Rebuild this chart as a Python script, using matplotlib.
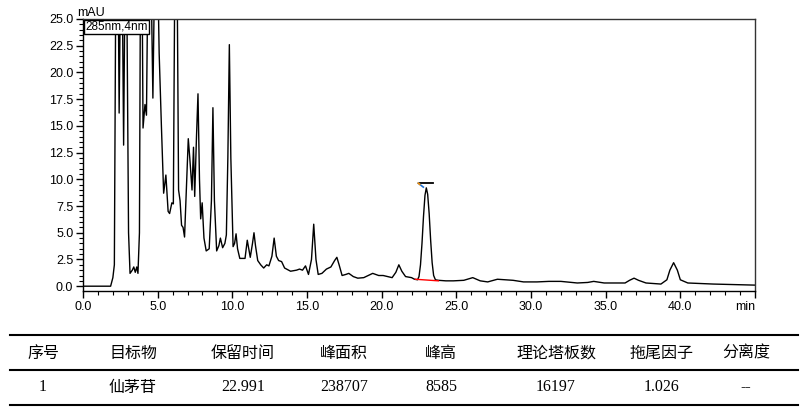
import matplotlib
matplotlib.use("Agg")
import matplotlib.pyplot as plt
import matplotlib.ticker as ticker
from matplotlib.lines import Line2D

# chromatogram trace (min, mAU); spikes above 25 are clipped
time_min = [0.0, 1.0, 1.85, 2.0, 2.1, 2.2, 2.35, 2.42, 2.52, 2.62, 2.72, 2.82, 2.92,
            3.05, 3.15, 3.3, 3.4, 3.5, 3.6, 3.68, 3.78, 3.85, 3.95, 4.02, 4.15, 4.25,
            4.35, 4.55, 4.68, 4.8, 5.0, 5.1, 5.25, 5.4, 5.55, 5.7, 5.8, 5.95, 6.05,
            6.15, 6.3, 6.4, 6.5, 6.6, 6.7, 6.8, 6.95, 7.05, 7.15, 7.3, 7.4, 7.48,
            7.6, 7.7, 7.8, 7.88, 7.98, 8.1, 8.25, 8.45, 8.6, 8.7, 8.8, 8.95, 9.1,
            9.2, 9.35, 9.5, 9.6, 9.7, 9.8, 9.9, 10.05, 10.15, 10.25, 10.35, 10.5,
            10.85, 11.0, 11.1, 11.2, 11.35, 11.45, 11.55, 11.7, 11.9, 12.1, 12.3,
            12.45, 12.65, 12.8, 12.95, 13.1, 13.3, 13.5, 13.9, 14.3, 14.5, 14.7,
            14.9, 15.1, 15.3, 15.45, 15.6, 15.75, 16.0, 16.3, 16.6, 16.85, 17.0,
            17.15, 17.35, 17.6, 17.8, 18.1, 18.4, 18.8, 19.1, 19.4, 19.8, 20.1,
            20.4, 20.7, 20.95, 21.15, 21.35, 21.6, 22.0, 22.2, 22.4, 22.5, 22.6,
            22.7, 22.8, 22.9, 22.99, 23.08, 23.18, 23.28, 23.38, 23.48, 23.6, 23.8,
            24.3, 24.8, 25.5, 26.1, 26.6, 27.1, 27.75, 28.3, 28.8, 29.5, 30.4,
            31.2, 32.0, 33.1, 33.8, 34.2, 34.9, 35.6, 36.3, 36.6, 36.9, 37.2,
            37.7, 38.7, 39.1, 39.3, 39.55, 39.8, 40.0, 40.5, 42.2, 45.0]
signal_mau = [0.0, 0.0, 0.0, 0.8, 2.0, 30, 30, 16.2, 30, 30, 13.2, 30, 30,
              5.0, 1.2, 1.5, 1.8, 1.3, 1.8, 1.2, 5.0, 30, 30, 14.8, 17.0, 16.0,
              30, 30, 17.6, 30, 30, 21.8, 15.0, 8.7, 10.4, 7.0, 6.8, 7.8, 7.7,
              30, 30, 9.0, 8.0, 5.7, 5.5, 4.6, 10.0, 13.8, 12.0, 9.0, 13.0, 8.4,
              14.0, 18.0, 10.0, 6.3, 7.8, 4.5, 3.3, 3.5, 8.0, 16.7, 8.0, 3.3, 3.8,
              4.5, 3.6, 4.0, 4.8, 12.0, 22.6, 12.0, 3.7, 4.0, 4.9, 3.5, 2.6,
              2.6, 4.3, 3.5, 2.7, 4.0, 5.0, 3.8, 2.4, 2.0, 1.7, 2.0,
              1.9, 2.8, 4.5, 2.8, 2.4, 2.3, 1.7, 1.4, 1.5, 1.6, 1.5,
              1.9, 1.1, 2.5, 5.8, 2.5, 1.1, 1.2, 1.6, 1.8, 2.4, 2.7,
              2.0, 1.0, 1.1, 1.2, 0.9, 0.75, 0.8, 1.0, 1.2, 1.0, 1.0,
              0.9, 0.8, 1.3, 2.0, 1.4, 0.9, 0.8, 0.65, 0.6, 0.9, 2.0,
              4.0, 6.5, 8.5, 9.2, 8.6, 6.8, 4.3, 2.2, 1.0, 0.6, 0.55,
              0.5, 0.5, 0.55, 0.8, 0.5, 0.4, 0.65, 0.6, 0.55, 0.4, 0.4,
              0.45, 0.45, 0.3, 0.35, 0.45, 0.3, 0.3, 0.3, 0.55, 0.75, 0.55,
              0.3, 0.2, 0.6, 1.5, 2.2, 1.5, 0.6, 0.3, 0.2, 0.1]

# integration baseline and peak marker of the target peak
base_t = [22.25, 23.8]
base_y = [0.65, 0.5]
mark_t = [22.6, 23.46]
mark_y = [9.64, 9.64]

headers = ["序号", "目标物", "保留时间", "峰面积", "峰高", "理论塔板数", "拖尾因子", "分离度"]
row = ["1", "仙茅苷", "22.991", "238707", "8585", "16197", "1.026", "--"]
col_x = [43, 133, 243, 344, 441, 556, 662, 746]

plt.rcParams['font.family'] = ['Liberation Sans', 'DejaVu Sans']

W, H = 807, 415
fig = plt.figure(figsize=(W / 100, H / 100), dpi=100)
ax = fig.add_axes([83 / W, 1 - 291 / H, (755 - 83) / W, (291 - 19) / H])

ax.plot(time_min, signal_mau, color='black', lw=1.0)
ax.plot(base_t, base_y, color='red', lw=1.0)
ax.plot(mark_t, mark_y, color='black', lw=1.3)
ax.plot([22.45, 22.79], [9.64, 9.27], color='#1f6fd0', lw=1.2)
ax.plot([22.45, 22.55], [9.64, 9.53], color='#f08a00', lw=1.2)

ax.set_xlim(0, 45)
ax.set_ylim(-0.45, 25)
ax.xaxis.set_major_locator(ticker.MultipleLocator(5))
ax.xaxis.set_minor_locator(ticker.MultipleLocator(1))
ax.yaxis.set_major_locator(ticker.MultipleLocator(2.5))
ax.yaxis.set_minor_locator(ticker.MultipleLocator(0.5))
ax.xaxis.set_major_formatter(ticker.FuncFormatter(lambda v, p: '' if v > 44 else f'{v:.1f}'))
ax.yaxis.set_major_formatter(ticker.FormatStrFormatter('%.1f'))
ax.tick_params(axis='both', which='major', direction='out', length=5, width=1,
               labelsize=9, pad=2, colors='black')
ax.tick_params(axis='both', which='minor', direction='out', length=3, width=0.8)
for s in ax.spines.values():
    s.set_linewidth(1.0)
    s.set_color('#333333')
ax.spines['left'].set_color('black')
ax.spines['bottom'].set_color('black')

ax.text(-0.009, 1.0, "mAU", transform=ax.transAxes, fontsize=9, ha='left', va='bottom')
ax.text(1.0, -0.035, "min", transform=ax.transAxes, fontsize=9, ha='right', va='top')
ax.text(0.003, 0.993, "285nm,4nm", transform=ax.transAxes, fontsize=8.5, ha='left', va='top',
        bbox=dict(boxstyle='square,pad=0.1', fc='white', ec='black', lw=1.0))

# result table under the chart
for yl in [335, 369.5, 405]:
    fig.add_artist(Line2D([10 / W, 798 / W], [1 - yl / H, 1 - yl / H],
                          color='black', lw=1.5))
cjk = ['Noto Sans CJK SC', 'DejaVu Sans']
for x, h in zip(col_x, headers):
    fig.text(x / W, 1 - 353 / H, h, ha='center', va='center', fontsize=11.5,
             family=cjk, weight='medium')
for x, v in zip(col_x, row):
    fam = cjk if v == "仙茅苷" else ['Liberation Serif', 'DejaVu Serif']
    fig.text(x / W, 1 - 387 / H, v, ha='center', va='center', fontsize=11.5, family=fam)

fig.savefig("out.png", dpi=100)
